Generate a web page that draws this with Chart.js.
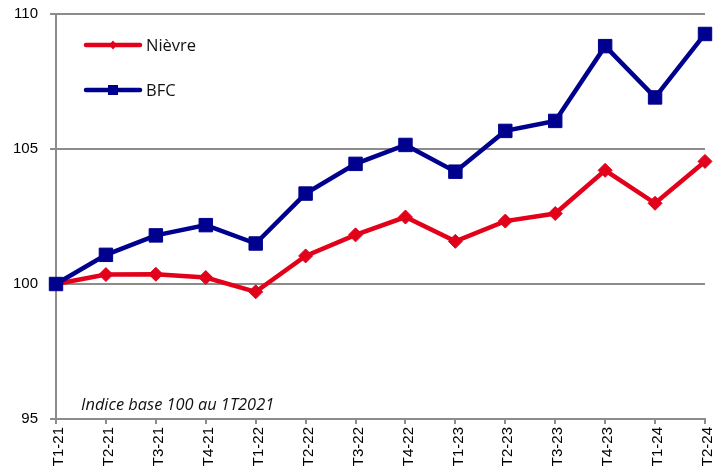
<!DOCTYPE html>
<html>
<head>
<meta charset="utf-8">
<script src="https://cdn.jsdelivr.net/npm/chart.js@4/dist/chart.umd.min.js"></script>
<style>
  html, body { margin: 0; padding: 0; background: #ffffff; }
  #c { display: block; }
</style>
</head>
<body>
<canvas id="c" width="726" height="476"></canvas>
<script>
// Quarterly index, base 100 in Q1 2021
const quarters = ['T1-21', 'T2-21', 'T3-21', 'T4-21', 'T1-22', 'T2-22', 'T3-22',
                  'T4-22', 'T1-23', 'T2-23', 'T3-23', 'T4-23', 'T1-24', 'T2-24'];
const nievre = [100, 100.35, 100.36, 100.24, 99.71, 101.04, 101.82,
                102.48, 101.58, 102.33, 102.61, 104.21, 102.99, 104.54];
const bfc = [100, 101.08, 101.80, 102.18, 101.50, 103.35, 104.45,
             105.15, 104.16, 105.67, 106.04, 108.81, 106.91, 109.26];
const yTicks = [95, 100, 105, 110];
const seriesNames = ['Nièvre', 'BFC'];
const note = 'Indice base 100 au 1T2021';

const RED = '#e2001a';
const BLUE = '#00008f';
const GRID = '#8c8c8c';

// Legend drawn inside the plot area: line + marker + name
const insideLegend = {
  id: 'insideLegend',
  afterDraw(chart) {
    const ctx = chart.ctx;
    const a = chart.chartArea;
    const items = [
      { name: seriesNames[0], color: RED, style: 'diamond', y: a.top + 31 },
      { name: seriesNames[1], color: BLUE, style: 'square', y: a.top + 76 }
    ];
    ctx.save();
    items.forEach(it => {
      const x0 = a.left + 30, x1 = a.left + 84, xm = (x0 + x1) / 2;
      ctx.strokeStyle = it.color;
      ctx.lineWidth = 4.5;
      ctx.lineCap = 'round';
      ctx.beginPath();
      ctx.moveTo(x0, it.y);
      ctx.lineTo(x1, it.y);
      ctx.stroke();
      ctx.fillStyle = it.color;
      ctx.beginPath();
      if (it.style === 'diamond') {
        ctx.moveTo(xm, it.y - 4.5);
        ctx.lineTo(xm + 4, it.y);
        ctx.lineTo(xm, it.y + 4.5);
        ctx.lineTo(xm - 4, it.y);
        ctx.closePath();
      } else {
        ctx.rect(xm - 5, it.y - 5, 10, 10);
      }
      ctx.fill();
      ctx.fillStyle = '#111111';
      ctx.font = '16.5px "Open Sans"';
      ctx.textAlign = 'left';
      ctx.textBaseline = 'middle';
      ctx.fillText(it.name, x1 + 6, it.y + 1);
    });
    // base note
    ctx.font = 'italic 16.4px "Open Sans"';
    ctx.fillStyle = '#111111';
    ctx.textBaseline = 'alphabetic';
    ctx.fillText(note, a.left + 25, a.bottom - 9);
    ctx.restore();
  }
};

new Chart(document.getElementById('c'), {
  type: 'line',
  data: {
    labels: quarters,
    datasets: [
      {
        label: seriesNames[0],
        data: nievre,
        order: 1,
        borderColor: RED,
        backgroundColor: RED,
        borderWidth: 4.5,
        pointStyle: 'rectRot',
        pointRadius: 7,
        pointBorderWidth: 1,
        pointBackgroundColor: RED,
        pointBorderColor: RED,
        tension: 0,
        clip: false
      },
      {
        label: seriesNames[1],
        data: bfc,
        order: 0,
        borderColor: BLUE,
        backgroundColor: BLUE,
        borderWidth: 4.5,
        pointStyle: 'rect',
        pointRadius: 9.5,
        pointBorderWidth: 1,
        pointBackgroundColor: BLUE,
        pointBorderColor: BLUE,
        tension: 0,
        clip: false
      }
    ]
  },
  options: {
    responsive: false,
    animation: false,
    devicePixelRatio: 1,
    layout: { padding: { top: 14, right: 21, left: 0, bottom: 0 } },
    plugins: {
      legend: { display: false },
      tooltip: { enabled: false }
    },
    scales: {
      x: {
        type: 'category',
        offset: false,
        grid: {
          display: true,
          drawOnChartArea: false,
          drawTicks: true,
          tickLength: 5,
          color: GRID,
          lineWidth: 2
        },
        border: { display: true, color: GRID, width: 2 },
        ticks: {
          autoSkip: false,
          maxRotation: 90,
          minRotation: 90,
          padding: 3,
          labelOffset: 3,
          color: '#000000',
          font: { family: '"Liberation Sans", Arial, sans-serif', size: 15 }
        },
        afterFit(scale) {
          scale.height = 57;
          scale.paddingLeft = 0;
          scale.paddingRight = 0;
        }
      },
      y: {
        min: 95,
        max: 110,
        afterBuildTicks(scale) { scale.ticks = yTicks.map(v => ({ value: v })); },
        grid: {
          color: GRID,
          lineWidth: 2,
          drawTicks: true,
          tickLength: 6
        },
        border: { display: true, color: GRID, width: 2 },
        ticks: {
          padding: 12,
          color: '#000000',
          font: { family: '"Liberation Sans", Arial, sans-serif', size: 15 }
        },
        afterFit(scale) {
          scale.width = 56;
          scale.paddingTop = 0;
          scale.paddingBottom = 0;
        }
      }
    }
  },
  plugins: [insideLegend]
});
</script>
</body>
</html>
